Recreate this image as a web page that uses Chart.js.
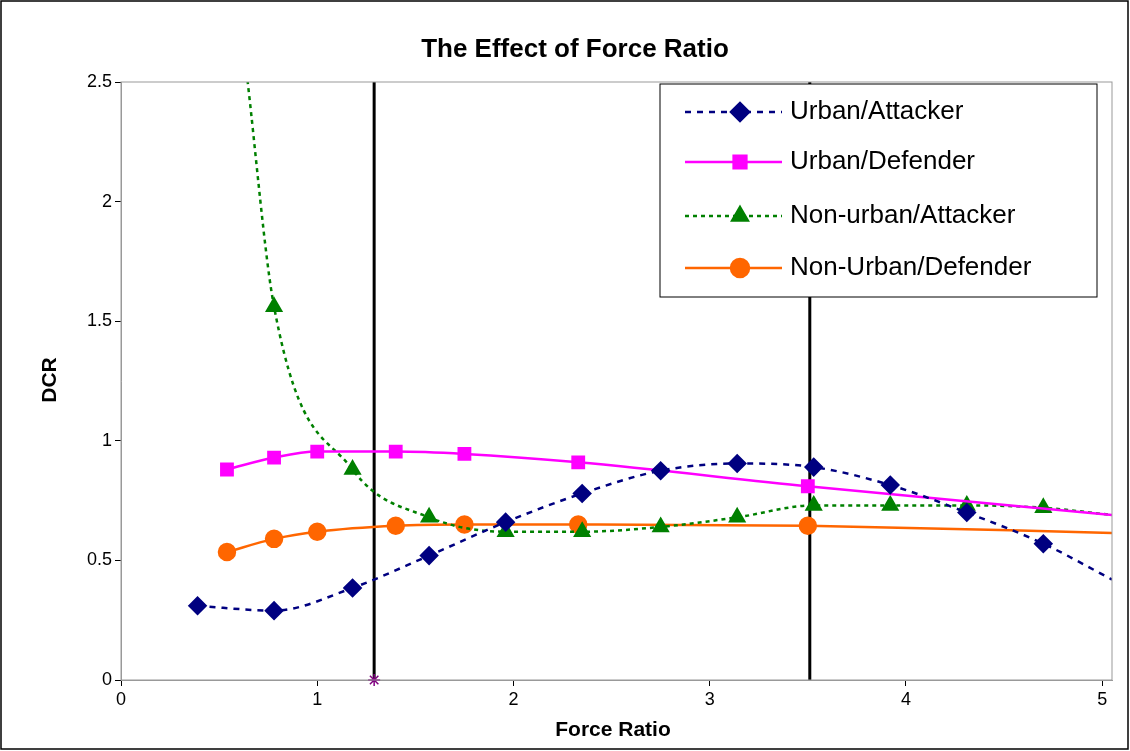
<!DOCTYPE html>
<html><head><meta charset="utf-8">
<script src="https://cdn.jsdelivr.net/npm/chart.js@4/dist/chart.umd.min.js"></script>
<style>html,body{margin:0;padding:0;background:#fff}#w{width:1130px;height:751px}</style>
</head><body><div id="w"><canvas id="c"></canvas></div>
<script>
const uaX=[0.39,0.78,1.18,1.57,1.96,2.35,2.75,3.14,3.53,3.92,4.31,4.70,5.05];
const uaY=[0.31,0.29,0.385,0.52,0.66,0.78,0.875,0.905,0.89,0.815,0.70,0.57,0.42];
const udX=[0.54,0.78,1.0,1.40,1.75,2.33,3.50,5.05];
const udY=[0.88,0.93,0.955,0.955,0.945,0.91,0.81,0.69];
const naX=[0.64,0.78,1.18,1.57,1.96,2.35,2.75,3.14,3.53,3.92,4.31,4.70,5.05];
const naY=[2.54,1.56,0.88,0.68,0.62,0.62,0.64,0.68,0.73,0.73,0.73,0.72,0.69];
const ndX=[0.54,0.78,1.0,1.40,1.75,2.33,3.50,5.05];
const ndY=[0.535,0.59,0.62,0.645,0.65,0.65,0.645,0.615];
const vLines=[1.29,3.51];
const xTicks=[0,1,2,3,4,5];
const yTicks=[0,0.5,1,1.5,2,2.5];
const names=['Urban/Attacker','Urban/Defender','Non-urban/Attacker','Non-Urban/Defender'];
const colors=['#000080','#FF00FF','#008000','#FF6600'];
const styles=['rectRot','rect','triangle','circle'];
const dashes=[[6,6],[],[4,4],[]];
const pts=(xs,ys)=>xs.map((x,i)=>({x,y:ys[i]}));
function rad(n,first,last){return Array.from({length:n},(_,i)=>(i===n-1&&last)||(i===0&&first)?0:8);}
const ds=[[uaX,uaY,false],[udX,udY,false],[naX,naY,true],[ndX,ndY,false]].map((d,k)=>({
 label:names[k],data:pts(d[0],d[1]),borderColor:colors[k],backgroundColor:colors[k],
 borderWidth:2.5,borderDash:dashes[k],pointStyle:styles[k],pointRadius:rad(d[0].length,d[2],true),
 cubicInterpolationMode:'monotone',showLine:true,fill:false}));
vLines.forEach((v,i)=>ds.push({data:[{x:v,y:0},{x:v,y:2.5}],borderColor:'#000',borderWidth:3,
 pointRadius:[i===0?6:0,0],pointStyle:'star',pointBorderColor:'#800080',pointBorderWidth:1.5,showLine:true,clip:false}));
const deco={id:'deco',afterDraw(ch){const c=ch.ctx,a=ch.chartArea;c.save();
 c.strokeStyle='#000';c.lineWidth=1.5;c.strokeRect(1,1,1127,748);
 c.strokeStyle='#999';c.lineWidth=1;c.strokeRect(a.left,a.top,a.right-a.left,a.bottom-a.top);
 c.fillStyle='#000';c.font='bold 26px Arial';c.textAlign='center';c.textBaseline='middle';c.fillText('The Effect of Force Ratio',575,50);
 c.font='bold 21px Arial';c.fillText('Force Ratio',613,730);
 c.save();c.translate(50,380);c.rotate(-Math.PI/2);c.fillText('DCR',0,0);c.restore();
 c.fillStyle='#fff';c.fillRect(660,84,437,213);c.strokeStyle='#000';c.strokeRect(660,84,437,213);
 const ys=[112,162,216,268];
 ys.forEach((y,k)=>{c.strokeStyle=colors[k];c.fillStyle=colors[k];c.lineWidth=2.5;c.setLineDash(dashes[k]);
  c.beginPath();c.moveTo(685,y);c.lineTo(782,y);c.stroke();c.setLineDash([]);
  Chart.helpers.drawPoint(c,{pointStyle:styles[k],radius:9,borderWidth:1},740,y);c.fill();
  c.fillStyle='#000';c.font='26px Arial';c.textAlign='left';c.textBaseline='middle';c.fillText(names[k],790,y);});
 c.restore();}};
new Chart(document.getElementById('c'),{type:'scatter',data:{datasets:ds},plugins:[deco],
 options:{responsive:true,maintainAspectRatio:false,animation:false,
 layout:{padding:{top:82,right:18,left:0,bottom:0}},
 plugins:{legend:{display:false},tooltip:{enabled:false}},
 scales:{x:{type:'linear',min:0,max:5.05,afterBuildTicks:s=>{s.ticks=xTicks.map(v=>({value:v}))},
  grid:{drawOnChartArea:false,tickLength:6,color:'#000'},border:{color:'#999'},
  ticks:{font:{size:18,family:'Arial'},color:'#000',callback:v=>String(v)},
  afterFit:s=>{s.height=71}},
 y:{min:0,max:2.5,afterBuildTicks:s=>{s.ticks=yTicks.map(v=>({value:v}))},
  grid:{drawOnChartArea:false,tickLength:6,color:'#000'},border:{color:'#999'},
  ticks:{font:{size:18,family:'Arial'},color:'#000',callback:v=>String(v)},
  afterFit:s=>{s.width=121}}}}});
</script></body></html>
